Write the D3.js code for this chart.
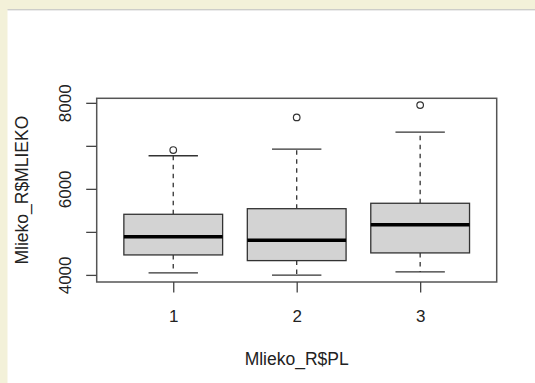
<!DOCTYPE html>
<html>
<head>
<meta charset="utf-8">
<script src="https://cdn.jsdelivr.net/npm/d3@7"></script>
<style>
  body { margin: 0; background: #fff; }
  svg text { font-family: "Liberation Sans", Arial, sans-serif; fill: #222; }
</style>
</head>
<body>
<svg id="chart" width="535" height="383"></svg>
<script>
// data
const groups = ["1", "2", "3"];
const lowerWhisker = [4046, 3993, 4070];
const q1 = [4464, 4332, 4511];
const median = [4889, 4806, 5168];
const q3 = [5409, 5539, 5665];
const upperWhisker = [6770, 6925, 7320];
const outliers = [[6902], [7661], [7947]];
const yTicks = [4000, 5000, 6000, 7000, 8000];
const yTickLabels = ["4000", "", "6000", "", "8000"];

const svg = d3.select("#chart");

// page frame (beige strip on top and left)
svg.append("rect").attr("x", 0).attr("y", 0).attr("width", 535).attr("height", 383).attr("fill", "#f3f1d9");
svg.append("rect").attr("x", 7.5).attr("y", 9.5).attr("width", 528).attr("height", 374).attr("fill", "#fff");
svg.append("line").attr("x1", 7.5).attr("x2", 535).attr("y1", 9.8).attr("y2", 9.8)
    .attr("stroke", "#bbb").attr("stroke-width", 1);

const plot = { left: 96.7, right: 496.7, top: 98.3, bottom: 282 };

// R style: x from 0.5..n+0.5 extended 4%
const n = groups.length;
const xPad = n * 0.04;
const xScale = d3.scaleLinear()
    .domain([0.5 - xPad, n + 0.5 + xPad])
    .range([plot.left, plot.right]);

const allVals = lowerWhisker.concat(upperWhisker, outliers.flat());
const [yMin, yMax] = d3.extent(allVals);
const yPad = (yMax - yMin) * 0.04;
const yScale = d3.scaleLinear()
    .domain([yMin - yPad, yMax + yPad])
    .range([plot.bottom, plot.top]);

const boxW = xScale(1.8) - xScale(1);
const capW = boxW / 2;
const ink = "#333";

const g = svg.append("g");
groups.forEach((grp, i) => {
    const cx = xScale(i + 1);
    // whiskers
    g.append("line").attr("x1", cx).attr("x2", cx)
        .attr("y1", yScale(q3[i])).attr("y2", yScale(upperWhisker[i]))
        .attr("stroke", ink).attr("stroke-width", 1.3).attr("stroke-dasharray", "4.5,4.5");
    g.append("line").attr("x1", cx).attr("x2", cx)
        .attr("y1", yScale(q1[i])).attr("y2", yScale(lowerWhisker[i]))
        .attr("stroke", ink).attr("stroke-width", 1.3).attr("stroke-dasharray", "4.5,4.5");
    // caps
    [upperWhisker[i], lowerWhisker[i]].forEach(v => {
        g.append("line").attr("x1", cx - capW / 2).attr("x2", cx + capW / 2)
            .attr("y1", yScale(v)).attr("y2", yScale(v))
            .attr("stroke", ink).attr("stroke-width", 1.3);
    });
    // box
    g.append("rect")
        .attr("x", cx - boxW / 2).attr("y", yScale(q3[i]))
        .attr("width", boxW).attr("height", yScale(q1[i]) - yScale(q3[i]))
        .attr("fill", "#d3d3d3").attr("stroke", ink).attr("stroke-width", 1.3);
    // median
    g.append("line").attr("x1", cx - boxW / 2).attr("x2", cx + boxW / 2)
        .attr("y1", yScale(median[i])).attr("y2", yScale(median[i]))
        .attr("stroke", "#000").attr("stroke-width", 3.5);
    // outliers
    g.selectAll(null).data(outliers[i]).enter().append("circle")
        .attr("cx", cx).attr("cy", d => yScale(d)).attr("r", 3.3)
        .attr("fill", "none").attr("stroke", ink).attr("stroke-width", 1.2);
});

// plot frame
svg.append("rect")
    .attr("x", plot.left).attr("y", plot.top)
    .attr("width", plot.right - plot.left).attr("height", plot.bottom - plot.top)
    .attr("fill", "none").attr("stroke", "#555").attr("stroke-width", 1.5);

// y axis
const yAxis = d3.axisLeft(yScale).tickValues(yTicks).tickSize(10.5)
    .tickFormat((d, i) => yTickLabels[i]);
const ya = svg.append("g").attr("transform", `translate(${plot.left},0)`).call(yAxis);
ya.select(".domain").remove();
ya.selectAll(".tick line").attr("stroke", "#444").attr("stroke-width", 1.3);
ya.selectAll(".tick text")
    .attr("transform", "rotate(-90)")
    .attr("x", 0).attr("y", -25.3).attr("dy", 0)
    .attr("text-anchor", "middle")
    .style("font-size", "17px").attr("fill", "#222");

// x axis
const xAxis = d3.axisBottom(xScale).tickValues(d3.range(1, n + 1)).tickSize(10.5)
    .tickFormat((d, i) => groups[i]);
const xa = svg.append("g").attr("transform", `translate(0,${plot.bottom})`).call(xAxis);
xa.select(".domain").remove();
xa.selectAll(".tick line").attr("stroke", "#444").attr("stroke-width", 1.3);
xa.selectAll(".tick text").attr("y", 39.7).attr("dy", 0)
    .style("font-size", "17px").attr("fill", "#222");

// axis titles
svg.append("text")
    .attr("x", (plot.left + plot.right) / 2).attr("y", 365)
    .attr("text-anchor", "middle").style("font-size", "17.5px")
    .text("Mlieko_R$PL");
svg.append("text")
    .attr("transform", `translate(28,${(plot.top + plot.bottom) / 2}) rotate(-90)`)
    .attr("text-anchor", "middle").style("font-size", "17.5px")
    .text("Mlieko_R$MLIEKO");
</script>
</body>
</html>
